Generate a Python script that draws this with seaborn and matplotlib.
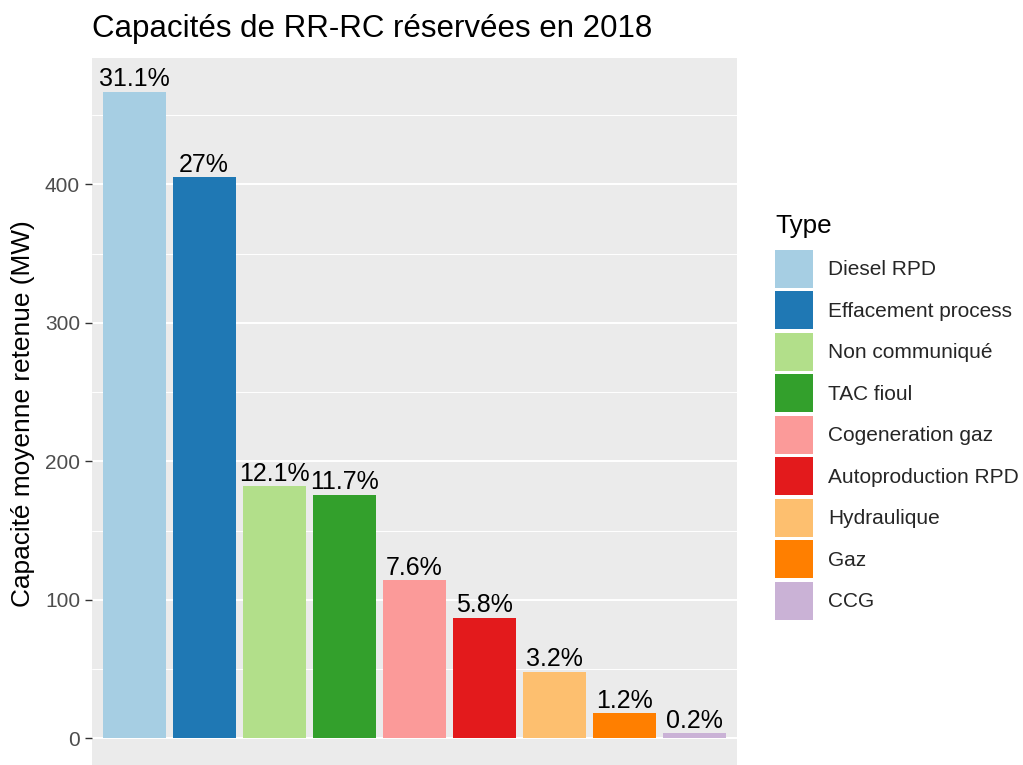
import matplotlib
matplotlib.use("Agg")
import matplotlib.pyplot as plt
from matplotlib.patches import Patch
from matplotlib.ticker import MultipleLocator, FixedLocator
import seaborn as sns
import pandas as pd

types = ["Diesel RPD", "Effacement process", "Non communiqué", "TAC fioul",
         "Cogeneration gaz", "Autoproduction RPD", "Hydraulique", "Gaz", "CCG"]
capacities = [467, 405, 182, 176, 114, 87, 48, 18, 3.5]
pct_labels = ["31.1%", "27%", "12.1%", "11.7%", "7.6%", "5.8%", "3.2%", "1.2%", "0.2%"]
colors = ["#A6CEE3", "#1F78B4", "#B2DF8A", "#33A02C", "#FB9A99",
          "#E31A1C", "#FDBF6F", "#FF7F00", "#CAB2D6"]
y_ticks = [0, 100, 200, 300, 400]

sns.set_theme(style="darkgrid")
plt.rcParams['font.family'] = ['Liberation Sans', 'DejaVu Sans']

W, H = 1023, 765
fig = plt.figure(figsize=(W / 100, H / 100), dpi=100)
ax = fig.add_axes([92 / W, 0, (737 - 92) / W, 1 - 58 / H])
ax.set_facecolor("#EBEBEB")

df = pd.DataFrame({"Type": pd.Categorical(types, categories=types),
                   "Capacite": capacities})
sns.barplot(data=df, x="Type", y="Capacite", hue="Type", palette=colors,
            width=0.9, saturation=1, ax=ax, legend=False, linewidth=0)

for i, (v, lab) in enumerate(zip(capacities, pct_labels)):
    ax.annotate(lab, (i, v), xytext=(0, 4), textcoords="offset points",
                ha="center", va="baseline", fontsize=18, color="black")

ax.set_xlim(-0.6, len(types) - 0.4)
ax.set_ylim(-19.3, 491.2)
ax.yaxis.set_major_locator(FixedLocator(y_ticks))
ax.yaxis.set_minor_locator(MultipleLocator(50))
ax.set_xticks([])
ax.set_xlabel("")
ax.set_ylabel("")
ax.grid(False)
ax.grid(which="major", axis="y", color="white", linewidth=1.4)
ax.grid(which="minor", axis="y", color="white", linewidth=0.7)
ax.set_axisbelow(True)
for s in ax.spines.values():
    s.set_visible(False)
ax.tick_params(axis="y", which="major", length=5, width=1.0, color="#333333",
               labelcolor="#4D4D4D", labelsize=15, pad=3.6, left=True)
ax.tick_params(axis="y", which="minor", length=0)

fig.text(92 / W, 1 - 37 / H, "Capacités de RR-RC réservées en 2018",
         fontsize=22.5, ha="left", va="baseline", color="black")
fig.text(23 / W, 1 - 414 / H, "Capacité moyenne retenue (MW)",
         fontsize=18.9, rotation=90, ha="center", va="center", color="black")

fig.text(775 / W, 1 - 233 / H, "Type", fontsize=18.75, ha="left",
         va="baseline", color="black")
handles = [Patch(facecolor=c, edgecolor="none") for c in colors]
leg = fig.legend(handles, types, loc="upper left",
                 bbox_to_anchor=(775 / W, 1 - 250 / H), frameon=False,
                 fontsize=15, handlelength=1.824,
                 handleheight=2.429, labelspacing=0.168, handletextpad=0.72,
                 borderpad=0, borderaxespad=0)

fig.savefig("out.png", dpi=100)
